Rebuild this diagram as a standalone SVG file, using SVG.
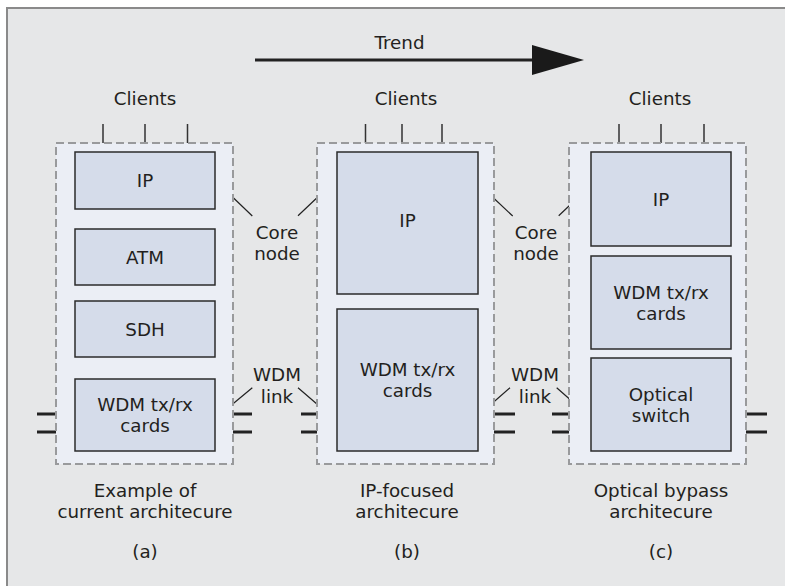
<svg xmlns="http://www.w3.org/2000/svg" width="785" height="586" viewBox="0 0 785 586">
<style>
text{font-family:"DejaVu Sans","Noto Sans",sans-serif;font-size:18.3px;fill:#231f20;text-anchor:middle}
.core{fill:#ebeef5;stroke:#999a9c;stroke-width:2;stroke-dasharray:8 4}
.box{fill:#d5dcea;stroke:#2b2b2b;stroke-width:1.5}
.wire{stroke:#333;stroke-width:1.5;fill:none}
.link{stroke:#222;stroke-width:3;fill:none}
.ptr{stroke:#222;stroke-width:1.2;fill:none}
</style>
<rect x="7" y="8" width="790" height="590" fill="#e6e7e8" stroke="#8a8a8a" stroke-width="2"/>

<g id="trend">
<line x1="255" y1="60" x2="540" y2="60" stroke="#222" stroke-width="3"/>
<polygon points="532,45 584,60 532,75" fill="#1a1a1a"/>
<text x="399.5" y="49">Trend</text>
</g>

<g id="connectors">
<path class="wire" d="M103,124V152M145,124V152M187.5,124V152M103,209V229M145,209V229M187.5,209V229M103,285V301M145,285V301M187.5,285V301M103,357V379M145,357V379M187.5,357V379"/>
<path class="link" d="M37,414H75M37,432H75M215,414H252M215,432H252"/>
<path class="wire" d="M365.5,124V152M402,124V152M442,124V152M365.5,294V309M402,294V309M442,294V309"/>
<path class="link" d="M301,414H337M301,432H337M478,414H515M478,432H515"/>
<path class="wire" d="M619,124V152M661,124V152M704,124V152M619,246V256M661,246V256M704,246V256M619,349V358M661,349V358M704,349V358"/>
<path class="link" d="M552,414H591M552,432H591M731,414H767M731,432H767"/>
<path class="ptr" d="M233.3,197.7L252.3,216M317,197.7L298,215.7M493.3,197.7L512.7,216M577.7,197.7L558.7,215.7"/>
<path class="ptr" d="M226.7,409L252.3,387.7M298,387.7L322.7,409M485.7,409L510,387.7M556.7,387.7L581.7,409.7"/>
</g>

<g id="col-a">
<text x="145" y="105">Clients</text>
<rect class="core" x="56" y="143" width="177" height="321"/>
<g id="a-ip"><rect class="box" x="75" y="152" width="140" height="57"/><text x="145" y="187">IP</text></g>
<g id="a-atm"><rect class="box" x="75" y="229" width="140" height="56"/><text x="145" y="264">ATM</text></g>
<g id="a-sdh"><rect class="box" x="75" y="301" width="140" height="56"/><text x="145" y="336">SDH</text></g>
<g id="a-wdm"><rect class="box" x="75" y="379" width="140" height="72"/><text x="145" y="410.5">WDM tx/rx<tspan x="145" dy="21.5">cards</tspan></text></g>
<text x="145" y="496.5">Example of<tspan x="145" dy="21.5">current architecure</tspan></text>
<text x="145" y="558">(a)</text>
</g>

<g id="col-b">
<text x="406" y="105">Clients</text>
<rect class="core" x="317" y="143" width="177" height="321"/>
<g id="b-ip"><rect class="box" x="337" y="152" width="141" height="142"/><text x="407.5" y="227">IP</text></g>
<g id="b-wdm"><rect class="box" x="337" y="309" width="141" height="142"/><text x="407.5" y="375.5">WDM tx/rx<tspan x="407.5" dy="21.5">cards</tspan></text></g>
<text x="407" y="496.5">IP-focused<tspan x="407" dy="21.5">architecure</tspan></text>
<text x="407" y="558">(b)</text>
</g>

<g id="col-c">
<text x="660" y="105">Clients</text>
<rect class="core" x="569" y="143" width="177" height="321"/>
<g id="c-ip"><rect class="box" x="591" y="152" width="140" height="94"/><text x="661" y="206">IP</text></g>
<g id="c-wdm"><rect class="box" x="591" y="256" width="140" height="93"/><text x="661" y="298.5">WDM tx/rx<tspan x="661" dy="21.5">cards</tspan></text></g>
<g id="c-osw"><rect class="box" x="591" y="358" width="140" height="93"/><text x="661" y="400.5">Optical<tspan x="661" dy="21.5">switch</tspan></text></g>
<text x="661" y="496.5">Optical bypass<tspan x="661" dy="21.5">architecure</tspan></text>
<text x="661" y="558">(c)</text>
</g>

<g id="labels">
<text x="277" y="238.5">Core<tspan x="277" dy="21.5">node</tspan></text>
<text x="536" y="238.5">Core<tspan x="536" dy="21.5">node</tspan></text>
<text x="277" y="381">WDM<tspan x="277" dy="21.5">link</tspan></text>
<text x="535" y="381">WDM<tspan x="535" dy="21.5">link</tspan></text>
</g>
</svg>
